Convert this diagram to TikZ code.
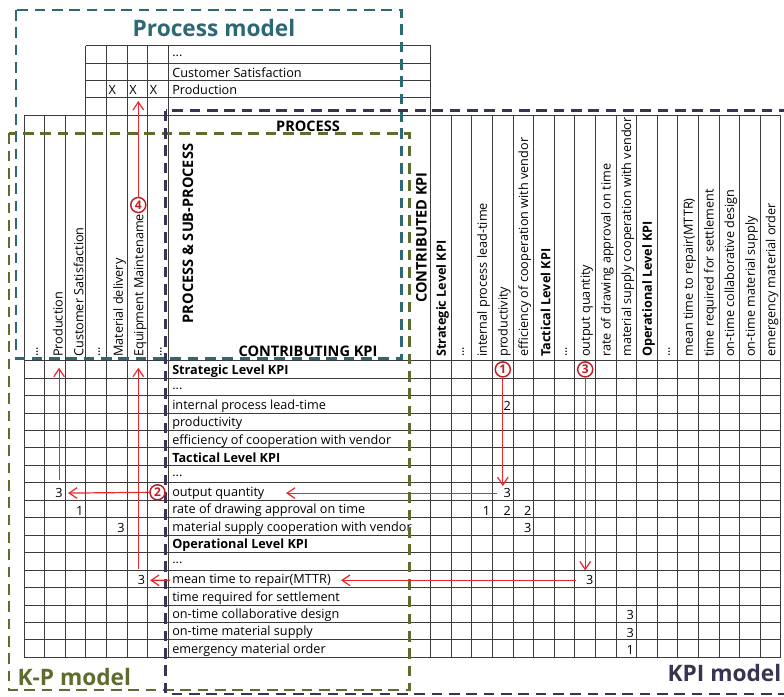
\documentclass[tikz,border=0pt]{standalone}
\usepackage{fontspec}
\setmainfont{Open Sans}
\usetikzlibrary{arrows.meta}
\definecolor{gridc}{RGB}{60,60,60}
\definecolor{pmcol}{RGB}{44,104,118}
\definecolor{kpcol}{RGB}{94,108,45}
\definecolor{kpicol}{RGB}{58,52,83}
\definecolor{linkred}{RGB}{232,40,44}
\definecolor{ringred}{RGB}{192,30,36}
\newcommand{\txtsize}{\fontsize{9.5}{11}\selectfont}
\newcommand{\hdsize}{\fontsize{10.9}{13}\selectfont}
\newcommand{\modelsize}{\fontsize{17}{20}\selectfont}
\newcommand{\moredots}{.\kern0pt.\kern0pt.}
\tikzset{
  gridline/.style={draw=gridc, line width=0.75pt},
  rowlbl/.style={anchor=west, inner sep=0pt, font=\txtsize},
  collbl/.style={rotate=90, anchor=west, inner sep=0pt, font=\txtsize},
  cellnum/.style={anchor=east, inner sep=0pt, font=\txtsize},
  xmark/.style={anchor=west, inner sep=0pt, font=\txtsize},
  hdlbl/.style={inner sep=0pt, font=\hdsize\bfseries},
  ring/.style={circle, draw=ringred, fill=white, line width=1.1pt, inner sep=0pt,
    minimum size=11.3pt, text=ringred, font=\fontsize{9}{10}\selectfont\bfseries},
  link/.style={draw=linkred, line width=0.9pt, -{Straight Barb[length=6pt,width=8pt]}},
  modelbox/.style={line width=2pt, dash pattern=on 8pt off 5pt},
  modellbl/.style={inner sep=0pt, font=\modelsize\bfseries},
}
\begin{document}
\begin{tikzpicture}[x=0.75pt,y=-0.75pt]
\useasboundingbox (0,0) rectangle (784,696);
\fill[white] (0,0) rectangle (784,696);

% ---- grid: KPI rows across the whole table
\foreach \k in {0,...,17}
  \draw[gridline] (24,{360.7+17.45*\k}) -- (780.9,{360.7+17.45*\k});
\draw[gridline] (24,115.5) -- (780.9,115.5);
% process rows on top
\foreach \y in {45.7,63.3,80.7,97.7}
  \draw[gridline] (85.8,\y) -- (430.7,\y);
% process columns (left block)
\foreach \k in {0,1,2}
  \draw[gridline] ({24+20.6*\k},115.5) -- ({24+20.6*\k},657.35);
\foreach \k in {3,...,7}
  \draw[gridline] ({24+20.6*\k},45.7) -- ({24+20.6*\k},657.35);
% KPI columns (right block)
\draw[gridline] (430.7,45.7) -- (430.7,657.35);
\foreach \k in {1,...,17}
  \draw[gridline] ({430.7+20.6*\k},115.5) -- ({430.7+20.6*\k},657.35);

% ---- process rows
\node[rowlbl] (t0) at (172,55.5) {\moredots};
\node[rowlbl] (t1) at (172,73.0) {Customer Satisfaction};
\node[rowlbl] (t2) at (172,90.2) {Production};
\node[xmark] (x0) at (108.4,90.2) {X};
\node[xmark] (x1) at (129.0,90.2) {X};
\node[xmark] (x2) at (149.6,90.2) {X};

% ---- KPI row labels
\foreach \t [count=\i from 0] in {{\bfseries Strategic Level KPI},\moredots,internal process lead-time,
    productivity,efficiency of cooperation with vendor,{\bfseries Tactical Level KPI},\moredots,
    output quantity,rate of drawing approval on time,material supply cooperation with vendor,
    {\bfseries Operational Level KPI},\moredots,mean time to repair(MTTR),time required for settlement,
    on-time collaborative design,on-time material supply,emergency material order}
  \node[rowlbl] (r\i) at (172,{369.4+17.45*\i+1.5}) {\t};

% ---- KPI column labels
\foreach \t [count=\i from 0] in {{\bfseries Strategic Level KPI},\moredots,internal process lead-time,
    productivity,efficiency of cooperation with vendor,{\bfseries Tactical Level KPI},\moredots,
    output quantity,rate of drawing approval on time,material supply cooperation with vendor,
    {\bfseries Operational Level KPI},\moredots,mean time to repair(MTTR),time required for settlement,
    on-time collaborative design,on-time material supply,emergency material order}
  \node[collbl] (k\i) at ({441.0+20.6*\i+1.5},357) {\t};

% ---- process column labels
\foreach \t [count=\i from 0] in {\moredots,Production,Customer Satisfaction,\moredots,Material delivery,
    Equipment Maintename,\moredots}
  \node[collbl] (p\i) at ({34.3+20.6*\i+3},357) {\t};

% ---- header titles
\node[hdlbl] (hproc) at (308,126) {PROCESS};
\node[hdlbl, rotate=90] (hsub) at (188,233.5) {PROCESS \& SUB-PROCESS};
\node[hdlbl] (hcing) at (308,351) {CONTRIBUTING KPI};
\node[hdlbl, rotate=90] (hced) at (421.5,237.5) {CONTRIBUTED KPI};

% ---- weights: process side
\node[cellnum] (n7a)  at (63.0,493.1) {3};
\node[cellnum] (n8a)  at (83.6,510.5) {1};
\node[cellnum] (n9a)  at (124.8,528.0) {3};
\node[cellnum] (n12a) at (145.4,580.3) {3};
% ---- weights: KPI side
\node[cellnum] (n2b)  at (511.1,405.8) {2};
\node[cellnum] (n7b)  at (511.1,493.1) {3};
\node[cellnum] (n8c)  at (490.5,510.5) {1};
\node[cellnum] (n8d)  at (511.1,510.5) {2};
\node[cellnum] (n8e)  at (531.7,510.5) {2};
\node[cellnum] (n9e)  at (531.7,528.0) {3};
\node[cellnum] (n12b) at (593.5,580.3) {3};
\node[cellnum] (n14f) at (634.1,615.2) {3};
\node[cellnum] (n15f) at (634.1,632.7) {3};
\node[cellnum] (n16f) at (634.1,650.1) {1};

% ---- model boundaries
\draw[modelbox, draw=pmcol]  (16,10) rectangle (401.7,358.3);
\draw[modelbox, draw=kpcol]  (9,133.3) rectangle (409.3,690);
\draw[modelbox, draw=kpicol] (165.5,110.7) rectangle (787,694);
\node[modellbl, text=pmcol, anchor=base] (lpm) at (214,36) {Process model};
\node[modellbl, text=kpcol, anchor=base west] (lkp) at (17.3,685) {K-P model};
\node[modellbl, text=kpicol, anchor=base east] (lkpi) at (781.5,681.7) {KPI model};

% ---- tracing steps
\node[ring] (c1) at (502.8,369.4) {1};
\node[ring] (c3) at (585.2,369.4) {3};
\node[ring] (c2) at (157.5,492.3) {2};
\node[ring] (c4) at (138.3,205) {4};
\coordinate (oqTip) at (286,493.1);
\coordinate (mttrTip) at (341,580.3);

\draw[link, shorten >=1.5pt] (c1.south) -- (c1.south |- n7b.north);
\draw[link, shorten <=5pt] (n7b.west) -- (oqTip);
\draw[link] (c2.west) -- ([xshift=3.8pt]n7a.east);
\draw[link, shorten <=6pt, shorten >=8pt] (n7a.north) -- (n7a.north |- p1.west);

\draw[link, shorten >=3.7pt] (c3.south) -- (c3.south |- n12b.north);
\draw[link, shorten <=7.5pt] (n12b.west) -- (mttrTip);
\draw[link, shorten <=1.5pt] (r12.west) -- ([xshift=3.5pt]n12a.east);
\draw[link, shorten <=5pt, shorten >=8pt] (c4 |- n12a.north) -- (c4 |- p5.west);
\draw[link, shorten >=4.5pt] (c4.north) -- (c4 |- x1.south);
\end{tikzpicture}
\end{document}
